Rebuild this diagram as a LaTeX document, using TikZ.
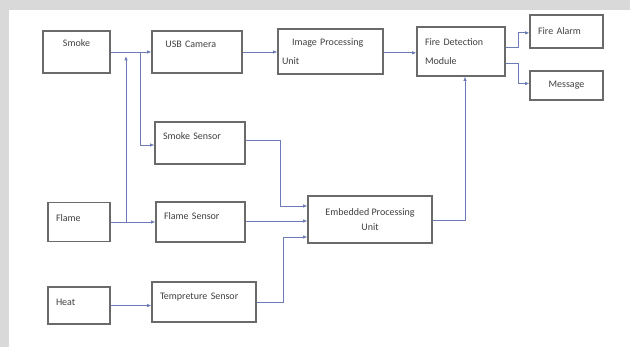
\documentclass[tikz,border=0pt]{standalone}
\usepackage{fontspec}
\setmainfont{Carlito}
\usetikzlibrary{arrows.meta}
\definecolor{linkblue}{HTML}{6C7BB5}
\definecolor{boxgray}{HTML}{6A6A6A}
\definecolor{framegray}{HTML}{D9D9D9}

\begin{document}
\begin{tikzpicture}[
    blk/.style={draw=boxgray, line width=0.9pt, inner xsep=6pt, inner ysep=2pt, align=left,
        font=\fontsize{7.5}{9}\selectfont, text=black!75},
    link/.style={-{Latex[length=3.2pt, width=2.6pt]}, linkblue, line width=0.6pt},
    x=0.75pt, y=-0.75pt]

    % ================= frame =================
    \fill[framegray] (0,0) rectangle (630,347);
    \fill[white] (9,10) rectangle (630,347);
    \useasboundingbox (0,0) rectangle (630,347);

    % ================= inputs =================
    \node[blk, align=center, minimum width=50.25pt, minimum height=31.5pt, text depth=14pt] (smoke) at (76.5,52) {Smoke};
    \node[blk, text width=34.5pt, minimum height=29.25pt, text depth=6pt] (flame) at (79,222) {Flame};
    \node[blk, text width=34.5pt, minimum height=27.75pt, text depth=5pt] (heat) at (79,305.5) {Heat};

    % ================= sensors =================
    \node[blk, text width=55.5pt, minimum height=31.5pt, text depth=11pt] (usb) at (197,52) {\hspace{4pt}USB Camera};
    \node[blk, text width=55.5pt, minimum height=31.5pt, text depth=10pt] (smokesen) at (200,143) {Smoke Sensor};
    \node[blk, text width=54.75pt, minimum height=30pt, text depth=9pt] (flamesen) at (200.5,222) {Flame Sensor};
    \node[blk, text width=66pt, minimum height=30pt, text depth=8pt] (temp) at (204,302) {Tempreture Sensor};

    % ================= processing =================
    \node[blk, inner xsep=3pt, text width=72.75pt, minimum height=33.75pt] (ipu) at (330.5,51.5) {\hspace{7.5pt}Image Processing\\[5pt]Unit};
    \node[blk, text width=54pt, minimum height=36.75pt] (fdm) at (461,51.5) {Fire Detection\\[5pt]Module};
    \node[blk, align=center, minimum width=93pt, minimum height=35.25pt] (epu) at (370,219.5) {Embedded Processing\\[2pt]Unit};

    % ================= outputs =================
    \node[blk, text width=42.75pt, minimum height=24.75pt] (alarm) at (566.5,31.5) {Fire Alarm};
    \node[blk, align=center, minimum width=54.75pt, minimum height=21.75pt] (msg) at (566.5,85.5) {Message};

    % inputs to the camera and sensors -
    \draw[link] (smoke) -- (usb);
    \draw[link] (flame) -- (flamesen);
    \draw[link] (heat.east) -- (heat.east -| temp.west);
    \coordinate (flamejoin) at (126,222);
    \coordinate (smokejoin) at (126,56);
    \draw[link] (flamejoin) -- (smokejoin);
    \coordinate (smoketap) at (140,52);
    \draw[link] (smoketap) |- ([yshift=-1.5pt]smokesen.west);

    % camera path -
    \draw[link] (usb.east) -- (usb.east -| ipu.west);
    \draw[link] ([yshift=-1pt]ipu.east) -- ([yshift=-1pt]ipu.east -| fdm.west);

    % sensors into the embedded unit -
    \path (epu.west) ++(0,-13.5) coordinate (epuin1);
    \path (epu.west) ++(0,1.5) coordinate (epuin2);
    \path (epu.west) ++(0,17.5) coordinate (epuin3);
    \draw[link] ([yshift=2pt]smokesen.east) -- ++(35,0) |- (epuin1);
    \draw[link] (flamesen.east |- epuin2) -- (epuin2);
    \draw[link] (temp.east) -- ++(27,0) |- (epuin3);
    \draw[link] ([yshift=-1pt]epu.east) -| ([xshift=3pt]fdm.south);

    % detection module to the outputs -
    \coordinate (splitup) at (518,47);
    \coordinate (splitdn) at (518,63);
    \draw[link] (fdm.east |- splitup) -- (splitup) |- ([yshift=-1pt]alarm.west);
    \draw[link] (fdm.east |- splitdn) -- (splitdn) |- ([yshift=1.5pt]msg.west);
\end{tikzpicture}
\end{document}
